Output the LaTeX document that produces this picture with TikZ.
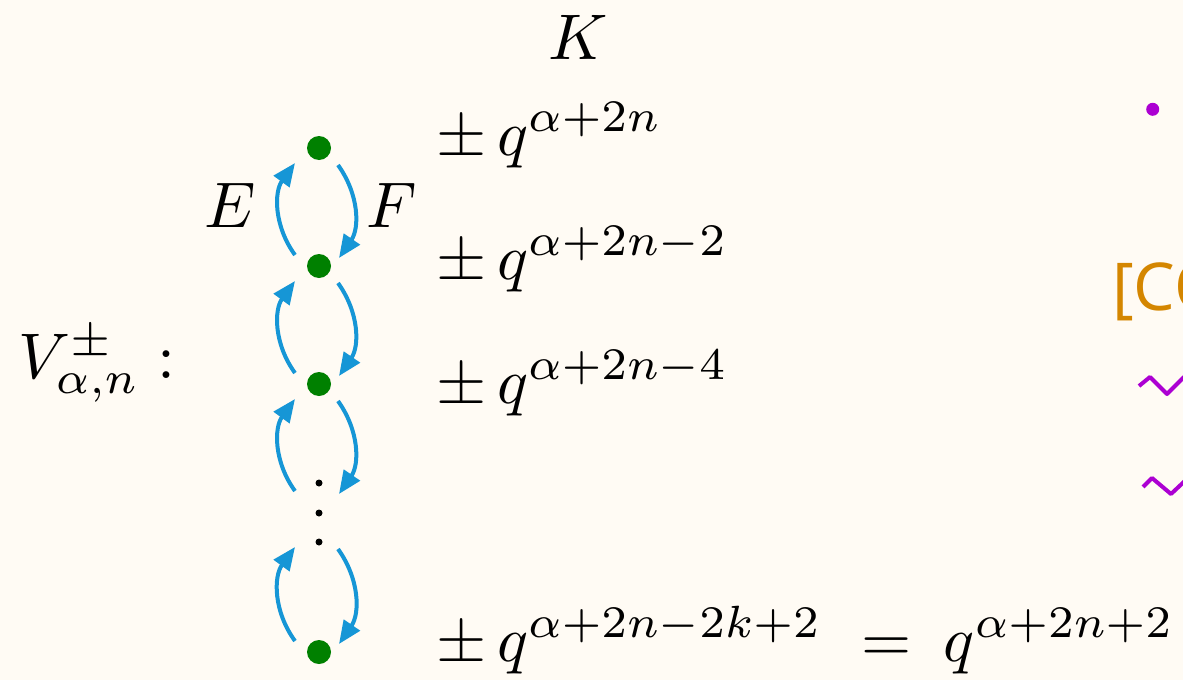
\RequirePackage{fix-cm}
\documentclass[tikz,border=0pt]{standalone}
\usepackage{amssymb}
\usepackage{graphicx}
\usepackage{fontspec}
\newfontfamily\sansfam{Open Sans}
\usetikzlibrary{arrows.meta,calc}
\definecolor{bg}{RGB}{255,251,244}
\definecolor{dotgreen}{RGB}{0,128,0}
\definecolor{arrblue}{RGB}{22,150,214}
\definecolor{purp}{RGB}{172,0,210}
\definecolor{orng}{RGB}{212,134,0}
\newcommand{\zm}[1]{\scalebox{6.45}{$#1$}}
\begin{document}
\begin{tikzpicture}[x=1pt,y=-1pt,
  vert/.style={circle,fill=dotgreen,inner sep=0pt,minimum size=24pt},
  edot/.style={circle,fill=black,inner sep=0pt,minimum size=7pt},
  lbl/.style={inner sep=0pt,anchor=base west,font=\fontsize{10}{12}\selectfont},
  arr/.style={arrblue,line width=4pt,-{Triangle[length=23pt,width=19pt]}},
  squig/.style={purp,line width=4pt,line join=round}
]
\fill[bg] (0,0) rectangle (1183,680);
\clip (0,0) rectangle (1183,680);
% vertices
\node[vert] (d1) at (319,148) {};
\node[vert] (d2) at (319,266) {};
\node[vert] (d3) at (319,384) {};
\node[vert] (d4) at (319,652) {};
\node[edot] (e1) at (319,483) {};
\node[edot] (e2) at (319,513) {};
\node[edot] (e3) at (319,542) {};
\coordinate (v1) at (319,502);
\coordinate (v2) at (319,532);
% arrows E (up, left) and F (down, right)
\foreach \t/\b in {d1/d2,d2/d3,d3/v1,v2/d4}{
  \draw[arr] ($(\b)+(-24,-11)$) to[bend left=36] ($(\t)+(-24,15)$);
  \draw[arr] ($(\t)+(19,17)$) to[bend left=35] ($(\b)+(20,-8)$);
}
% labels
\node[lbl,anchor=base] (K) at (578,59) {\zm{K}};
\node[lbl] (E) at (204,227) {\zm{E}};
\node[lbl] (F) at (366,227) {\zm{F}};
\node[lbl] (V) at (18,378) {\zm{V^{\pm}_{\alpha,n}:}};
\node[lbl] (r1) at (436,155) {\zm{\pm\,q^{\alpha+2n}}};
\node[lbl] (r2) at (436,279) {\zm{\pm\,q^{\alpha+2n-2}}};
\node[lbl] (r3) at (436,403) {\zm{\pm\,q^{\alpha+2n-4}}};
\node[lbl] (r4) at (436,661) {\zm{\pm\,q^{\alpha+2n-2k+2}\mkern6mu=\mkern4mu q^{\alpha+2n+2}}};
% right-hand cropped content
\node[circle,fill=purp,inner sep=0pt,minimum size=13pt] (b1) at (1152.7,109.3) {};
\node[inner sep=0pt,anchor=base west,text=orng,font=\sansfam\fontsize{66}{80}\selectfont] (co) at (1112,310) {[CO};
\draw[squig] (1139,386) -- (1150,377) -- (1167,394) -- (1184,377) -- (1201,394);
\draw[squig] (1143,487) -- (1152,478) -- (1171,494) -- (1188,478) -- (1205,494);
\end{tikzpicture}
\end{document}
